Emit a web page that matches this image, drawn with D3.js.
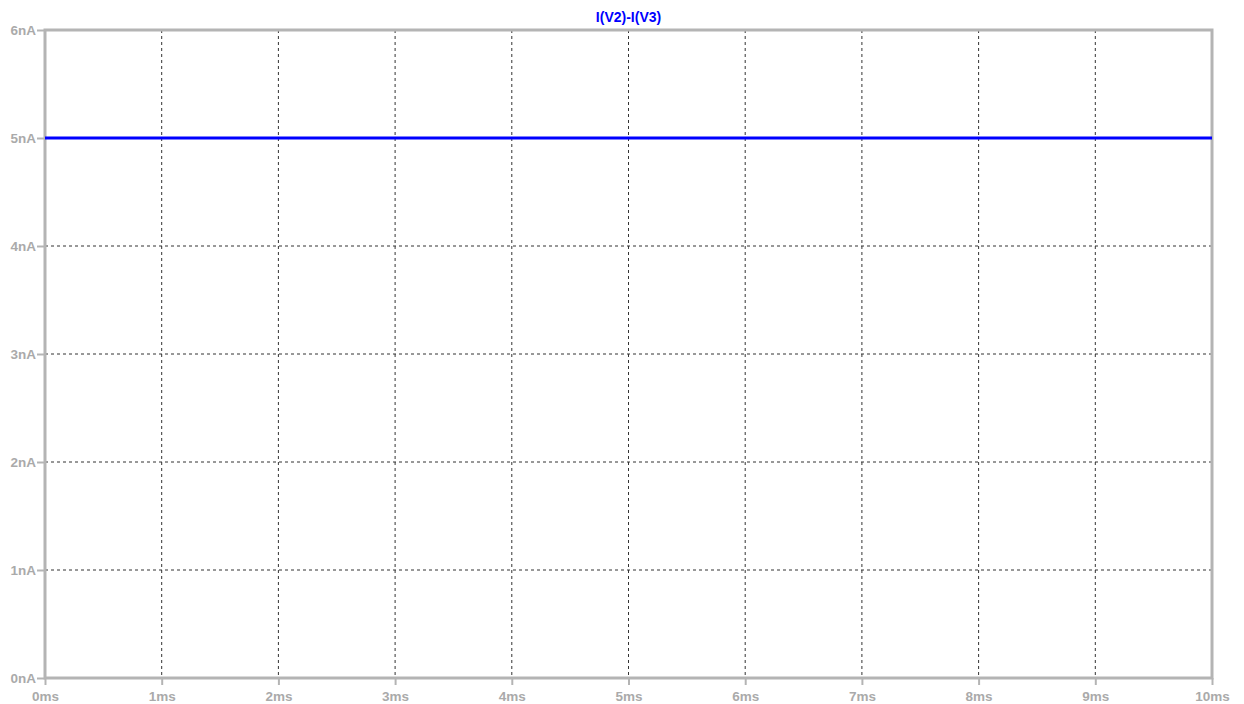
<!DOCTYPE html>
<html><head><meta charset="utf-8">
<script src="https://cdn.jsdelivr.net/npm/d3@7"></script>
<style>body{margin:0;background:#fff;}svg{display:block;}</style>
</head><body>
<script>
const title = "I(V2)-I(V3)";
const timeMs = [0, 10];
const currentNA = [5, 5];
const xTicks = [0,1,2,3,4,5,6,7,8,9,10];
const yTicks = [0,1,2,3,4,5,6];
const xTickLabels = xTicks.map(d => d + "ms");
const yTickLabels = yTicks.map(d => d + "nA");

const W = 1244, H = 704;
const m = {l:45, r:32, t:30, b:26};
const svg = d3.select("body").append("svg").attr("width", W).attr("height", H);
const x = d3.scaleLinear().domain([0,10]).range([m.l, W - m.r]);
const y = d3.scaleLinear().domain([0,6]).range([H - m.b, m.t]);
const gray = "#b4b4b4", lab = "#aaaaaa";
const font = "Arial, 'Liberation Sans', sans-serif";

// grid
svg.append("g").selectAll("line").data(xTicks.slice(1,-1)).join("line")
  .attr("x1", d=>x(d)).attr("x2", d=>x(d)).attr("y1", y(6)).attr("y2", y(0))
  .attr("stroke", "#333").attr("stroke-width", 1).attr("stroke-dasharray", "3,3");
svg.append("g").selectAll("line").data(yTicks.slice(1,-1)).join("line")
  .attr("y1", d=>y(d)).attr("y2", d=>y(d)).attr("x1", x(0)).attr("x2", x(10))
  .attr("stroke", "#333").attr("stroke-width", 1).attr("stroke-dasharray", "3,3");

// axes
const xAxis = d3.axisBottom(x).tickValues(xTicks).tickFormat((d,i)=>xTickLabels[i]).tickSize(7).tickPadding(6);
const yAxis = d3.axisLeft(y).tickValues(yTicks).tickFormat((d,i)=>yTickLabels[i]).tickSize(8).tickPadding(1);
const gx = svg.append("g").attr("transform", `translate(0,${y(0)})`).call(xAxis);
const gy = svg.append("g").attr("transform", `translate(${x(0)},0)`).call(yAxis);
[gx, gy].forEach(g => {
  g.select(".domain").remove();
  g.selectAll(".tick line").attr("stroke", gray).attr("stroke-width", 2);
  g.selectAll("text").attr("fill", lab).attr("font-family", font)
    .attr("font-size", 13.5).attr("font-weight", "bold");
});

// frame
svg.append("rect").attr("x", x(0)).attr("y", y(6)).attr("width", x(10)-x(0)).attr("height", y(0)-y(6))
  .attr("fill", "none").attr("stroke", gray).attr("stroke-width", 3);

// line
const data = timeMs.map((t,i)=>({t, v: currentNA[i]}));
svg.append("path").datum(data)
  .attr("d", d3.line().x(d=>x(d.t)).y(d=>y(d.v)))
  .attr("fill", "none").attr("stroke", "#0000ff").attr("stroke-width", 3);

// title
svg.append("text").attr("x", (x(0)+x(10))/2).attr("y", 22).attr("text-anchor", "middle")
  .attr("fill", "#0000ff").attr("font-family", font)
  .attr("font-size", 14).attr("font-weight", "bold").text(title);
</script>
</body></html>
